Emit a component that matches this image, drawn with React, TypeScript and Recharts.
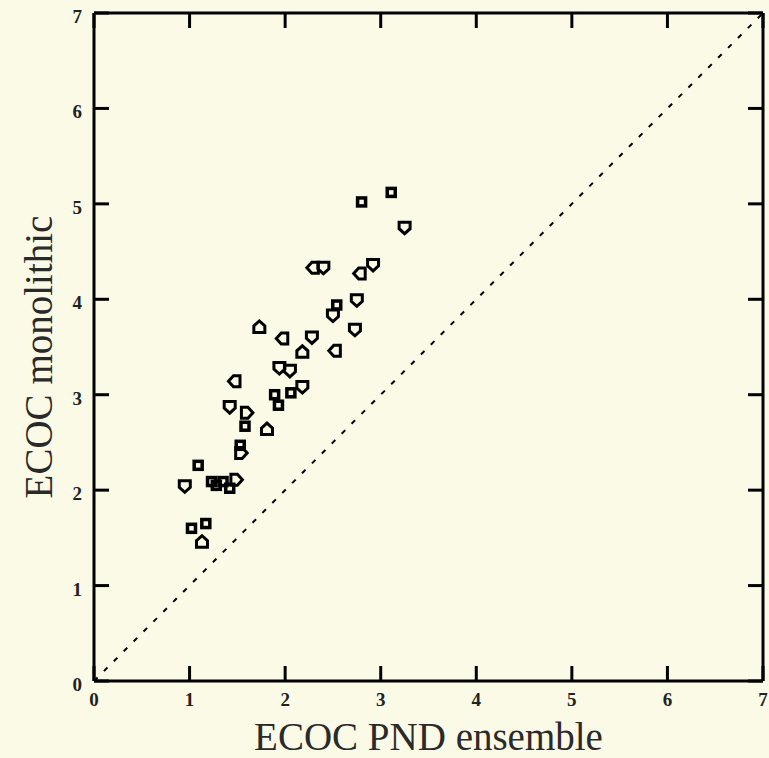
import React from 'react';
import { ScatterChart, Scatter, XAxis, YAxis, ReferenceLine } from 'recharts';

const axisTicks = [0, 1, 2, 3, 4, 5, 6, 7];

// ECOC PND ensemble (x) vs ECOC monolithic (y)
const squarePoints = [
  { x: 3.11, y: 5.12 }, { x: 2.8, y: 5.02 }, { x: 2.54, y: 3.94 },
  { x: 1.89, y: 3.0 }, { x: 1.93, y: 2.89 }, { x: 2.06, y: 3.02 },
  { x: 1.58, y: 2.67 }, { x: 1.53, y: 2.47 }, { x: 1.09, y: 2.26 },
  { x: 1.23, y: 2.09 }, { x: 1.35, y: 2.09 }, { x: 1.42, y: 2.02 },
  { x: 1.28, y: 2.05 }, { x: 1.02, y: 1.6 }, { x: 1.17, y: 1.65 },
];

const shieldPoints = [
  { x: 3.25, y: 4.75 }, { x: 2.4, y: 4.33 }, { x: 2.92, y: 4.36 },
  { x: 2.28, y: 3.6 }, { x: 2.5, y: 3.83 }, { x: 2.75, y: 3.99 },
  { x: 2.73, y: 3.68 }, { x: 1.94, y: 3.28 }, { x: 2.05, y: 3.25 },
  { x: 2.18, y: 3.08 }, { x: 1.42, y: 2.87 }, { x: 0.95, y: 2.04 },
];

const housePoints = [
  { x: 1.73, y: 3.71 }, { x: 2.18, y: 3.45 }, { x: 1.81, y: 2.64 }, { x: 1.13, y: 1.46 },
];

const leftPoints = [
  { x: 2.29, y: 4.33 }, { x: 2.78, y: 4.27 }, { x: 1.97, y: 3.59 },
  { x: 2.52, y: 3.46 }, { x: 1.47, y: 3.14 },
];

const rightPoints = [
  { x: 1.6, y: 2.81 }, { x: 1.54, y: 2.39 }, { x: 1.49, y: 2.11 },
];

const BG = '#fbfae6';
const INK = '#000';
const PLOT_TOP = 13;
const PLOT_RIGHT = 763;
const TICK_LEN = 15;
const tickFont = { fontFamily: '"Liberation Serif", serif', fontSize: 19, fontWeight: 700, fill: '#222' };
const titleFont = { fontFamily: '"Liberation Serif", serif', fontSize: 39, fill: '#2a2a2a' };

const shieldPath = 'M-5.5,-5.5 H5.5 V1 L0,6 L-5.5,1 Z';

const makeShape = (rot: number) => (props: any) => (
  <path
    d={shieldPath}
    transform={`translate(${props.cx},${props.cy}) rotate(${rot})`}
    fill="none"
    stroke={INK}
    strokeWidth={3}
  />
);

const squareShape = (props: any) => (
  <rect
    x={props.cx - 4}
    y={props.cy - 4}
    width={8}
    height={8}
    fill="none"
    stroke={INK}
    strokeWidth={3.5}
  />
);

const XTick = (props: any) => {
  const { x, y, payload } = props;
  return (
    <g>
      <line x1={x} y1={y} x2={x} y2={y - TICK_LEN} stroke={INK} strokeWidth={3} />
      <line x1={x} y1={PLOT_TOP} x2={x} y2={PLOT_TOP + TICK_LEN} stroke={INK} strokeWidth={3} />
      <text x={x} y={y + 25} textAnchor="middle" {...tickFont}>
        {payload.value}
      </text>
    </g>
  );
};

const YTick = (props: any) => {
  const { x, y, payload } = props;
  return (
    <g>
      <line x1={x} y1={y} x2={x + TICK_LEN} y2={y} stroke={INK} strokeWidth={3} />
      <line x1={PLOT_RIGHT} y1={y} x2={PLOT_RIGHT - TICK_LEN} y2={y} stroke={INK} strokeWidth={3} />
      <text x={x - 12} y={y + 10} textAnchor="end" {...tickFont}>
        {payload.value}
      </text>
    </g>
  );
};

export default function App() {
  return (
    <div style={{ position: 'absolute', left: 0, top: 0, width: 769, height: 758, background: BG }}>
      <ScatterChart width={769} height={758} margin={{ top: PLOT_TOP, right: 769 - PLOT_RIGHT, left: 0, bottom: 0 }}>
        <XAxis
          type="number"
          dataKey="x"
          domain={[0, 7]}
          ticks={axisTicks}
          height={77}
          tickSize={0}
          tickMargin={0}
          tickLine={false}
          axisLine={{ stroke: INK, strokeWidth: 3 }}
          tick={XTick}
          label={(p: any) => {
            const vb = p.viewBox;
            return (
              <text x={vb.x + vb.width / 2} y={vb.y + 69} textAnchor="middle" {...titleFont}>
                ECOC PND ensemble
              </text>
            );
          }}
        />
        <YAxis
          type="number"
          dataKey="y"
          domain={[0, 7]}
          ticks={axisTicks}
          width={94}
          tickSize={0}
          tickMargin={0}
          tickLine={false}
          axisLine={{ stroke: INK, strokeWidth: 3 }}
          tick={YTick}
          label={() => (
            <text x={0} y={0} textAnchor="middle" transform="translate(52, 357) rotate(-90)" {...titleFont}>
              ECOC monolithic
            </text>
          )}
        />
        <ReferenceLine y={7} stroke={INK} strokeWidth={3} />
        <ReferenceLine x={7} stroke={INK} strokeWidth={3} />
        <ReferenceLine
          segment={[{ x: 0, y: 0 }, { x: 7, y: 7 }]}
          stroke={INK}
          strokeWidth={2}
          strokeDasharray="5 9"
        />
        <Scatter data={squarePoints} shape={squareShape} isAnimationActive={false} />
        <Scatter data={shieldPoints} shape={makeShape(0)} isAnimationActive={false} />
        <Scatter data={housePoints} shape={makeShape(180)} isAnimationActive={false} />
        <Scatter data={leftPoints} shape={makeShape(90)} isAnimationActive={false} />
        <Scatter data={rightPoints} shape={makeShape(-90)} isAnimationActive={false} />
      </ScatterChart>
    </div>
  );
}
